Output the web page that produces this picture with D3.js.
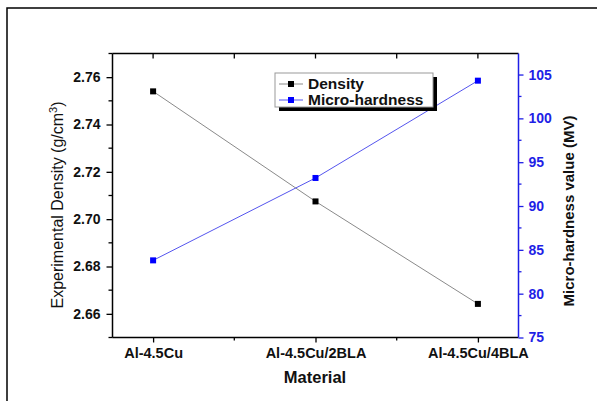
<!DOCTYPE html>
<html>
<head>
<meta charset="utf-8">
<script src="https://cdn.jsdelivr.net/npm/d3@7"></script>
<style>
  body { margin: 0; background: #fff; }
  svg { display: block; font-family: Arial, 'Liberation Sans', sans-serif; }
</style>
</head>
<body>
<svg id="chart"></svg>
<script>
const width = 597;
const height = 401;

const materials = ['Al-4.5Cu', 'Al-4.5Cu/2BLA', 'Al-4.5Cu/4BLA'];
const density = [2.754, 2.7075, 2.6642];
const hardness = [83.8, 93.2, 104.3];
const densityTicks = [2.66, 2.68, 2.70, 2.72, 2.74, 2.76];
const hardnessTicks = [75, 80, 85, 90, 95, 100, 105];

const margin = {top: 53.5, right: 78.5, bottom: 63.5, left: 112.5};
const blue = '#1f1fe6';

const svg = d3.select('#chart')
    .attr('width', width)
    .attr('height', height);

// outer frame (cropped on right and bottom)
svg.append('rect')
    .attr('x', 7).attr('y', 8)
    .attr('width', 800).attr('height', 600)
    .attr('fill', 'none')
    .attr('stroke', '#000')
    .attr('stroke-width', 1.5);

const x = d3.scalePoint()
    .domain(materials)
    .range([margin.left, width - margin.right])
    .padding(0.25);

const yL = d3.scaleLinear()
    .domain([2.65, 2.77])
    .range([height - margin.bottom, margin.top]);

const yR = d3.scaleLinear()
    .domain([75, 107.4])
    .range([height - margin.bottom, margin.top]);

const halfSteps = materials.slice(0, -1).map(m => x(m) + x.step() / 2);

// frame lines
const g = svg.append('g');
g.append('line')
    .attr('x1', margin.left).attr('x2', width - margin.right)
    .attr('y1', margin.top).attr('y2', margin.top)
    .attr('stroke', '#000').attr('stroke-width', 1.5);

// bottom axis
const xAxis = g.append('g')
    .attr('transform', `translate(0,${height - margin.bottom})`)
    .call(d3.axisBottom(x).tickSize(5).tickPadding(5));
xAxis.select('.domain').attr('stroke-width', 1.5).attr('d', `M${margin.left},0H${width - margin.right}`);
xAxis.selectAll('.tick line').attr('stroke-width', 1.3);
xAxis.selectAll('text')
    .attr('font-size', 14.5).attr('font-weight', 'bold').attr('fill', '#111');
xAxis.selectAll('.minor')
    .data(halfSteps).join('line')
    .attr('x1', d => d).attr('x2', d => d)
    .attr('y1', 0).attr('y2', 3)
    .attr('stroke', '#000').attr('stroke-width', 1.3);

// top ticks (inward)
g.selectAll('.topTick')
    .data(materials.map(m => x(m)).concat(halfSteps))
    .join('line')
    .attr('x1', d => d).attr('x2', d => d)
    .attr('y1', margin.top).attr('y2', margin.top + 5)
    .attr('stroke', '#000').attr('stroke-width', 1.3);

// left axis
const leftAxis = g.append('g')
    .attr('transform', `translate(${margin.left},0)`)
    .call(d3.axisLeft(yL).tickValues(densityTicks).tickFormat(d3.format('.2f')).tickSize(6).tickPadding(6));
leftAxis.select('.domain').attr('stroke-width', 1.5)
    .attr('d', `M0,${height - margin.bottom}V${margin.top}`);
leftAxis.selectAll('.tick line').attr('stroke-width', 1.3);
leftAxis.selectAll('text')
    .attr('font-size', 14).attr('font-weight', 'bold').attr('fill', '#111');
leftAxis.selectAll('.minor')
    .data(densityTicks.map(d => d - 0.01).concat([2.77]))
    .join('line')
    .attr('x1', -4).attr('x2', 0)
    .attr('y1', d => yL(d)).attr('y2', d => yL(d))
    .attr('stroke', '#000').attr('stroke-width', 1.3);

// right axis
const rightAxis = g.append('g')
    .attr('transform', `translate(${width - margin.right},0)`)
    .call(d3.axisRight(yR).tickValues(hardnessTicks).tickSize(5).tickPadding(5));
rightAxis.select('.domain').attr('stroke', blue).attr('stroke-width', 1.5)
    .attr('d', `M0,${height - margin.bottom}V${margin.top}`);
rightAxis.selectAll('.tick line').attr('stroke', blue).attr('stroke-width', 1.3);
rightAxis.selectAll('text')
    .attr('font-size', 14).attr('font-weight', 'bold').attr('fill', blue);
rightAxis.selectAll('.minor')
    .data(hardnessTicks.slice(0, -1).map(d => d + 2.5))
    .join('line')
    .attr('x1', 0).attr('x2', 3)
    .attr('y1', d => yR(d)).attr('y2', d => yR(d))
    .attr('stroke', blue).attr('stroke-width', 1.3);

// density series
const densLine = d3.line().x((d, i) => x(materials[i])).y(d => yL(d));
svg.append('path')
    .datum(density)
    .attr('d', densLine)
    .attr('fill', 'none')
    .attr('stroke', '#8a8a8a')
    .attr('stroke-width', 1);
svg.selectAll('.dmark')
    .data(density).join('rect')
    .attr('x', (d, i) => x(materials[i]) - 3)
    .attr('y', d => yL(d) - 3)
    .attr('width', 6).attr('height', 6)
    .attr('fill', '#000');

// hardness series
const hardLine = d3.line().x((d, i) => x(materials[i])).y(d => yR(d));
svg.append('path')
    .datum(hardness)
    .attr('d', hardLine)
    .attr('fill', 'none')
    .attr('stroke', '#5555ee')
    .attr('stroke-width', 1);
svg.selectAll('.hmark')
    .data(hardness).join('rect')
    .attr('x', (d, i) => x(materials[i]) - 3)
    .attr('y', d => yR(d) - 3)
    .attr('width', 6).attr('height', 6)
    .attr('fill', '#0000ff');

// legend
const legend = svg.append('g').attr('transform', 'translate(275,73)');
legend.append('rect')
    .attr('x', 4).attr('y', 4).attr('width', 158).attr('height', 34)
    .attr('fill', '#000');
legend.append('rect')
    .attr('width', 158).attr('height', 34)
    .attr('fill', '#fff').attr('stroke', '#999').attr('stroke-width', 1);
const entries = [
    {name: 'Density', line: '#8a8a8a', mark: '#000'},
    {name: 'Micro-hardness', line: '#5555ee', mark: '#0000ff'}
];
entries.forEach((e, i) => {
    const cy = 11 + i * 16;
    legend.append('line')
        .attr('x1', 4).attr('x2', 28).attr('y1', cy).attr('y2', cy)
        .attr('stroke', e.line).attr('stroke-width', 1);
    legend.append('rect')
        .attr('x', 13).attr('y', cy - 3).attr('width', 6).attr('height', 6)
        .attr('fill', e.mark);
    legend.append('text')
        .attr('x', 33).attr('y', cy + 5)
        .attr('font-size', 15.5).attr('font-weight', 'bold')
        .attr('fill', '#111')
        .text(e.name);
});

// axis titles
svg.append('text')
    .attr('x', 315).attr('y', 383)
    .attr('text-anchor', 'middle')
    .attr('font-size', 16.5).attr('font-weight', 'bold')
    .attr('fill', '#111')
    .text('Material');

const leftTitle = svg.append('text')
    .attr('transform', 'translate(63,205) rotate(-90)')
    .attr('text-anchor', 'middle')
    .attr('font-size', 16).attr('fill', '#111');
leftTitle.append('tspan').text('Experimental Density (g/cm');
leftTitle.append('tspan').attr('dy', -6).attr('font-size', 11).text('3');
leftTitle.append('tspan').attr('dy', 6).text(')');

svg.append('text')
    .attr('transform', 'translate(574,211) rotate(-90)')
    .attr('text-anchor', 'middle')
    .attr('font-size', 15).attr('font-weight', 'bold')
    .attr('fill', '#111')
    .text('Micro-hardness value (MV)');
</script>
</body>
</html>
